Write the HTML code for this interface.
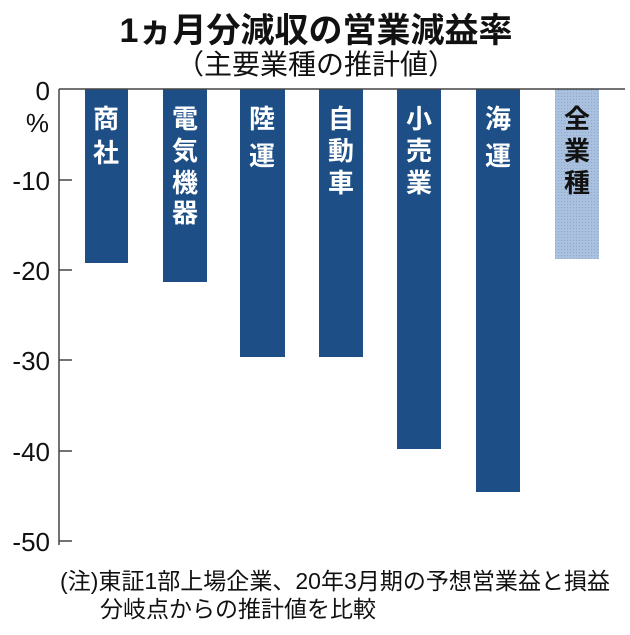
<!DOCTYPE html>
<html><head><meta charset="utf-8"><style>
body{margin:0;background:#fff;}
svg text{font-family:"Liberation Sans","Noto Sans CJK JP",sans-serif;}
</style></head><body>
<svg width="630" height="630" viewBox="0 0 630 630" xmlns="http://www.w3.org/2000/svg">
<defs><pattern id="dots" width="3" height="3" patternUnits="userSpaceOnUse"><rect width="3" height="3" fill="#a9c1de"/><rect width="1" height="1" fill="#8fa9cb"/></pattern></defs>
<text x="316" y="42" font-size="34" font-weight="bold" text-anchor="middle" fill="#111">1ヵ月分減収の営業減益率</text>
<text x="316" y="74" font-size="28" text-anchor="middle" fill="#111">（主要業種の推計値）</text>
<g fill="#1d4f86">
<rect x="85" y="89" width="43" height="174"/>
<rect x="163" y="89" width="44" height="193"/>
<rect x="240" y="89" width="45" height="268"/>
<rect x="319" y="89" width="44" height="268"/>
<rect x="397" y="89" width="44" height="360"/>
<rect x="476" y="89" width="44" height="403"/>
</g>
<rect x="555" y="89" width="44" height="170" fill="url(#dots)"/>
<line x1="59" y1="89" x2="625" y2="89" stroke="#444" stroke-width="1.5"/>
<line x1="59" y1="89" x2="59" y2="545" stroke="#444" stroke-width="1.5"/>
<g stroke="#444" stroke-width="1.5">
<line x1="59" y1="180" x2="72" y2="180"/><line x1="59" y1="270" x2="72" y2="270"/>
<line x1="59" y1="360" x2="72" y2="360"/><line x1="59" y1="451" x2="72" y2="451"/>
<line x1="59" y1="541" x2="72" y2="541"/>
</g>
<g font-size="26" fill="#111" text-anchor="end">
<text x="50" y="100">0</text>
<text x="49" y="132">%</text>
<text x="50" y="190">-10</text><text x="50" y="280">-20</text>
<text x="50" y="370">-30</text><text x="50" y="461">-40</text><text x="50" y="551">-50</text>
</g>
<g font-size="26" font-weight="bold" fill="#fff" text-anchor="middle">
<text x="106" y="128">商</text><text x="106" y="162">社</text>
<text x="185" y="128">電</text><text x="185" y="160">気</text><text x="185" y="192">機</text><text x="185" y="222">器</text>
<text x="262" y="128">陸</text><text x="262" y="165">運</text>
<text x="341" y="128">自</text><text x="341" y="160">動</text><text x="341" y="192">車</text>
<text x="419" y="128">小</text><text x="419" y="160">売</text><text x="419" y="192">業</text>
<text x="498" y="128">海</text><text x="498" y="165">運</text>
<text x="577" y="128" fill="#111">全</text><text x="577" y="160" fill="#111">業</text><text x="577" y="192" fill="#111">種</text>
</g>
<text x="60" y="589" font-size="23" fill="#111" textLength="550">(注)東証1部上場企業、20年3月期の予想営業益と損益</text>
<text x="100" y="617" font-size="23" fill="#111">分岐点からの推計値を比較</text>
</svg>
</body></html>
